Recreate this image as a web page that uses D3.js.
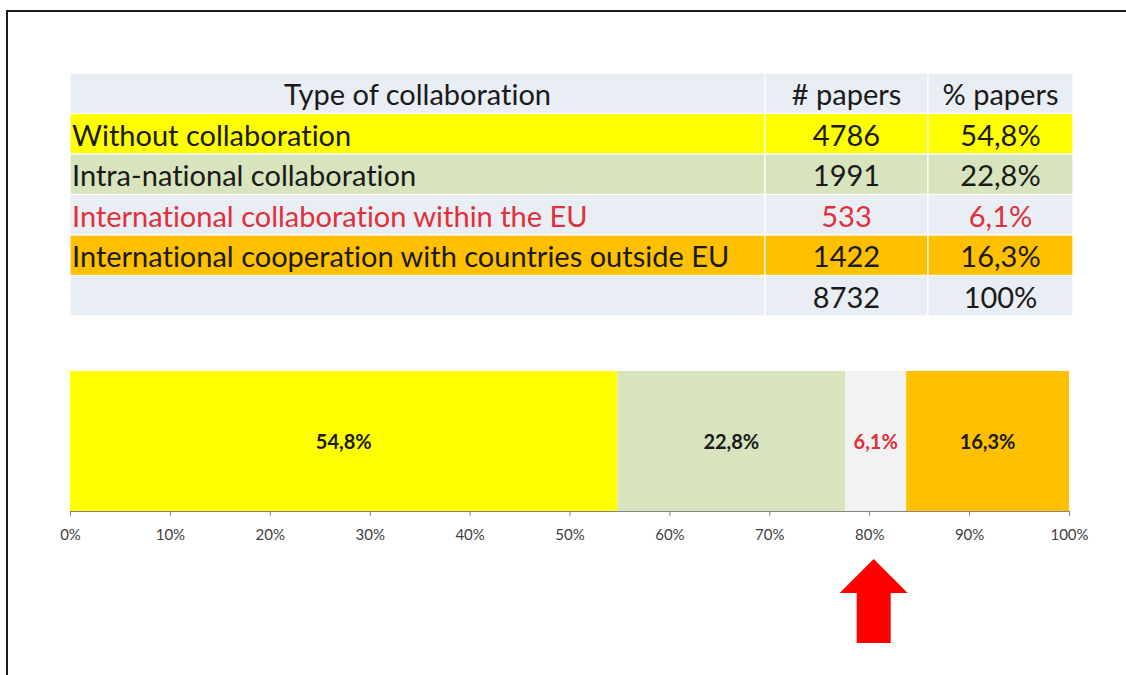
<!DOCTYPE html>
<html>
<head>
<meta charset="utf-8">
<script src="https://cdn.jsdelivr.net/npm/d3@7"></script>
<style>
  html, body { margin: 0; padding: 0; background: #ffffff; }
  svg { display: block; }
  text { font-variant-ligatures: none; }
</style>
</head>
<body>
<svg id="chart" width="1126" height="675"></svg>
<script>
// Collaboration types and their paper counts / shares
const categories = [
  "Without collaboration",
  "Intra-national collaboration",
  "International collaboration within the EU",
  "International cooperation with countries outside EU"
];
const papers = [4786, 1991, 533, 1422];
const shares = [54.8, 22.8, 6.1, 16.3];
const totalPapers = 8732;
const totalShare = 100;
const headers = ["Type of collaboration", "# papers", "% papers"];
const tickValues = [0, 10, 20, 30, 40, 50, 60, 70, 80, 90, 100];

// Styling
const rowFills = ["#ffff00", "#d7e4bd", "#e9edf4", "#ffc000"];
const barFills = ["#ffff00", "#d7e4bd", "#f2f2f2", "#ffc000"];
const textColors = ["#1a1a1a", "#1a1a1a", "#e0303a", "#1a1a1a"];
const headerFill = "#e9edf4";
const FONT = "Lato, 'Open Sans', sans-serif";

// Decimal comma formatting
const locale = d3.formatLocale({ decimal: ",", thousands: ".", grouping: [3], currency: ["", "€"] });
const pct = v => locale.format(".1f")(v) + "%";
const pctInt = v => locale.format("d")(v) + "%";

const svg = d3.select("#chart");

// Outer frame
svg.append("rect")
  .attr("x", 7).attr("y", 11)
  .attr("width", 1200).attr("height", 800)
  .attr("fill", "none").attr("stroke", "#1a1a1a").attr("stroke-width", 2);

// ---------- Table ----------
const colEdges = [70, 765, 928, 1073];
const rowKeys = ["header", 0, 1, 2, 3, "total"];
const yRow = d3.scaleBand().domain(rowKeys).range([73, 316]);

const tableRows = rowKeys.map(k => {
  if (k === "header") {
    return { key: k, fill: headerFill, color: "#1a1a1a", cells: headers, firstAlign: "middle" };
  }
  if (k === "total") {
    return { key: k, fill: headerFill, color: "#1a1a1a", cells: ["", String(totalPapers), pctInt(totalShare)], firstAlign: "start" };
  }
  return {
    key: k, fill: rowFills[k], color: textColors[k],
    cells: [categories[k], String(papers[k]), pct(shares[k])], firstAlign: "start"
  };
});

const table = svg.append("g").attr("class", "table");

const rowG = table.selectAll("g.row").data(tableRows).join("g")
  .attr("class", "row")
  .attr("transform", d => `translate(0,${yRow(d.key)})`);

rowG.selectAll("rect").data(d => d.cells.map((c, i) => ({ i, fill: d.fill }))).join("rect")
  .attr("x", c => colEdges[c.i])
  .attr("y", 0)
  .attr("width", c => colEdges[c.i + 1] - colEdges[c.i])
  .attr("height", yRow.bandwidth())
  .attr("fill", c => c.fill)
  .attr("stroke", "#ffffff")
  .attr("stroke-width", 1.2);

rowG.selectAll("text").data(d => d.cells.map((t, i) => ({ t, i, color: d.color, firstAlign: d.firstAlign }))).join("text")
  .attr("x", c => (c.i === 0 && c.firstAlign === "start") ? colEdges[0] + 2 : (colEdges[c.i] + colEdges[c.i + 1]) / 2)
  .attr("y", yRow.bandwidth() / 2 + 2)
  .attr("dy", "0.35em")
  .attr("text-anchor", c => (c.i === 0 && c.firstAlign === "start") ? "start" : "middle")
  .attr("font-family", FONT)
  .attr("font-size", 29)
  .attr("fill", c => c.color)
  .text(c => c.t);

// ---------- 100% stacked bar ----------
const x = d3.scaleLinear().domain([0, 100]).range([70, 1069]);
const barTop = 371, barBottom = 511;

const stacked = [];
shares.reduce((acc, v, i) => { stacked.push({ i, x0: acc, x1: acc + v, v }); return acc + v; }, 0);

const bar = svg.append("g").attr("class", "bar");

bar.selectAll("rect").data(stacked).join("rect")
  .attr("x", d => x(d.x0))
  .attr("y", barTop)
  .attr("width", d => x(d.x1) - x(d.x0))
  .attr("height", barBottom - barTop)
  .attr("fill", d => barFills[d.i]);

bar.selectAll("text").data(stacked).join("text")
  .attr("x", d => (x(d.x0) + x(d.x1)) / 2)
  .attr("y", (barTop + barBottom) / 2 + 1)
  .attr("dy", "0.35em")
  .attr("text-anchor", "middle")
  .attr("font-family", FONT)
  .attr("font-weight", "bold")
  .attr("font-size", 20)
  .attr("fill", d => textColors[d.i])
  .text(d => pct(d.v));

// Axis
const axis = svg.append("g")
  .attr("transform", `translate(0,${barBottom})`)
  .call(d3.axisBottom(x).tickValues(tickValues).tickSize(5).tickPadding(13).tickFormat(d => d + "%"));
axis.select(".domain").attr("stroke", "#868686");
axis.selectAll(".tick line").attr("stroke", "#868686");
axis.selectAll(".tick text")
  .attr("font-family", FONT)
  .attr("font-size", 15)
  .attr("fill", "#404040");

// Arrow pointing at the EU segment
const eu = stacked[2];
const ax = (x(eu.x0) + x(eu.x1)) / 2 - 2;
const tipY = 559, headY = 593, baseY = 643, headHalf = 34, shaftHalf = 17;
svg.append("path")
  .attr("d", d3.line()([
    [ax, tipY], [ax + headHalf, headY], [ax + shaftHalf, headY], [ax + shaftHalf, baseY],
    [ax - shaftHalf, baseY], [ax - shaftHalf, headY], [ax - headHalf, headY]
  ]) + "Z")
  .attr("fill", "#ff0000");
</script>
</body>
</html>
